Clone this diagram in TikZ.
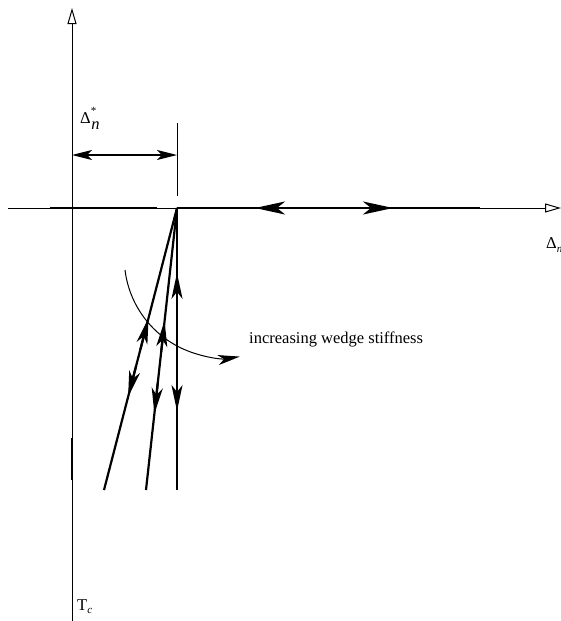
\documentclass[tikz,border=0pt]{standalone}
\usepackage{fontspec}
\setmainfont{Liberation Serif}
\usetikzlibrary{arrows.meta,calc}
\tikzset{
  thinline/.style={line width=1pt},
  thickline/.style={line width=2.2pt},
  axistip/.style={-{Triangle[open,length=16pt,width=9pt,line width=1pt]}},
  bigtip/.style={-{Stealth[length=30pt,width=13pt,inset=8pt]}},
  midtip/.style={-{Stealth[length=26pt,width=11pt,inset=7pt]}},
  dimtip/.style={{Stealth[length=20pt,width=10pt,inset=5pt]}-{Stealth[length=20pt,width=10pt,inset=5pt]}},
  curvetip/.style={-{Stealth[length=22pt,width=10pt,inset=6pt]}},
  lbl/.style={inner sep=0pt,anchor=base west,font=\fontsize{16.5}{19}\selectfont}
}
\begin{document}
\begin{tikzpicture}[x=1pt,y=-1pt]
\useasboundingbox (0,0) rectangle (561,621);
% coordinates
\coordinate (vb) at (72,621);
\coordinate (vt) at (72,8);
\coordinate (hl) at (8,208);
\coordinate (hr) at (561,208);
\coordinate (P) at (177,208);
\coordinate (E) at (480,208);
\coordinate (hb1) at (50,208);
\coordinate (hb2) at (157,208);
\coordinate (vs1) at (72,438);
\coordinate (vs2) at (72,480);
\coordinate (B1) at (104,490);
\coordinate (B2) at (146,490);
\coordinate (B3) at (177,490);
\coordinate (tk1) at (177,123);
\coordinate (tk2) at (177,196);
\coordinate (d1) at (72,155);
\coordinate (d2) at (177,155);
\coordinate (cs) at (125,270);
% axes
\draw[thinline,axistip] (vb) -- (vt);
\draw[thinline,axistip] (hl) -- (hr);
\draw[line width=1.6pt] (hb1) -- (hb2);
\draw[line width=1.3pt] (vs1) -- (vs2);
% dimension
\draw[thinline] (tk1) -- (tk2);
\draw[line width=1.3pt,dimtip] (d1) -- (d2);
% horizontal thick path
\draw[thickline] (P) -- (E);
\draw[thickline,bigtip] (300,208) -- (255,208);
\draw[thickline,bigtip] (350,208) -- (393,208);
% wedge lines
\draw[thickline] (P) -- (B1);
\draw[thickline] (P) -- (B2);
\draw[thickline] (P) -- (B3);
\draw[thickline,midtip] ($(P)!0.50!(B1)$) -- ($(P)!0.39!(B1)$);
\draw[thickline,midtip] ($(P)!0.56!(B1)$) -- ($(P)!0.67!(B1)$);
\draw[thickline,midtip] ($(P)!0.51!(B2)$) -- ($(P)!0.40!(B2)$);
\draw[thickline,midtip] ($(P)!0.62!(B2)$) -- ($(P)!0.73!(B2)$);
\draw[thickline,midtip] ($(P)!0.34!(B3)$) -- ($(P)!0.23!(B3)$);
\draw[thickline,midtip] ($(P)!0.61!(B3)$) -- ($(P)!0.72!(B3)$);
% curved arrow
\draw[thinline,curvetip] (cs) arc[start angle=173,end angle=81,radius=100];
% labels
\node[lbl] (dn) at (80,123) {Δ\raisebox{9pt}{\fontsize{11}{12}\selectfont *}\kern-5pt\raisebox{-6pt}{\textit{n}}};
\node[lbl] (txt) at (249,343) {increasing wedge stiffness};
\node[lbl] (dx) at (546,248) {Δ\raisebox{-4pt}{\fontsize{11}{12}\selectfont\textit{n}}};
\node[lbl] (tc) at (77,610) {T\raisebox{-3pt}{\fontsize{11}{12}\selectfont\textit{c}}};
\end{tikzpicture}
\end{document}
